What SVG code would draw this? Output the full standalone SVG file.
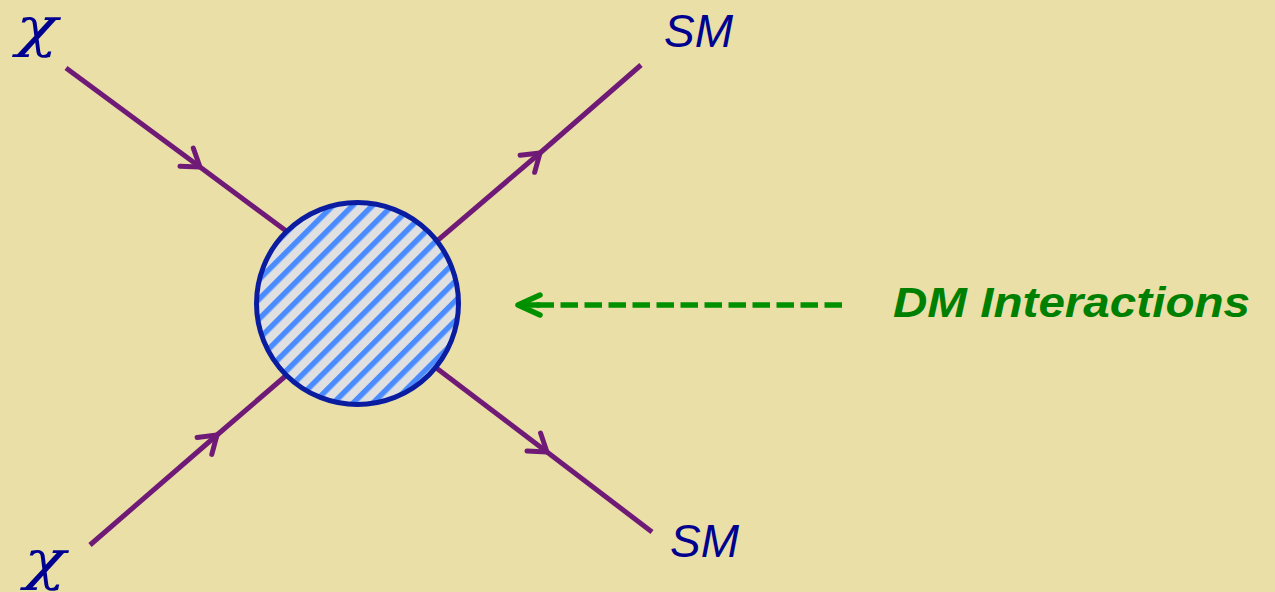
<svg xmlns="http://www.w3.org/2000/svg" width="1275" height="592" viewBox="0 0 1275 592">
  <style>
    .prop { stroke: #701a78; stroke-width: 5; stroke-linecap: butt; fill: none; }
    .head { stroke: #701a78; stroke-width: 5; stroke-linecap: round; stroke-linejoin: round; fill: none; }
    .chi { font-family: "DejaVu Serif", "Liberation Serif", serif; font-style: italic; font-size: 55px; fill: #000090; }
    .sm { font-family: "Liberation Sans", Arial, sans-serif; font-style: italic; font-size: 46px; fill: #000090; }
    .note { font-family: "Liberation Sans", Arial, sans-serif; font-style: italic; font-weight: bold; font-size: 42px; fill: #008000; }
  </style>
  <defs>
    <!-- open chevron arrowhead placed at the end of a segment -->
    <marker id="chev" markerUnits="userSpaceOnUse" viewBox="-20 -13 22 26" refX="0" refY="0" markerWidth="22" markerHeight="26" orient="auto" overflow="visible">
      <path class="head" d="M-16.6,-11.2 L0,0 L-16.6,11.2"/>
    </marker>
    <marker id="chevGreen" markerUnits="userSpaceOnUse" viewBox="-26 -14 28 28" refX="0" refY="0" markerWidth="28" markerHeight="28" orient="auto" overflow="visible">
      <path d="M-22,-10 L0,0 L-22,10" fill="none" stroke="#009000" stroke-width="5.5" stroke-linecap="round" stroke-linejoin="round"/>
    </marker>
    <pattern id="hatch" patternUnits="userSpaceOnUse" width="14" height="14" patternTransform="rotate(-45)">
      <rect width="14" height="14" fill="#e0e0e0"/>
      <rect y="0" width="14" height="5.5" fill="#4a8cff"/>
    </pattern>
  </defs>

  <rect width="1275" height="592" fill="#e9dfa7"/>

  <g id="connectors">
    <!-- incoming chi (top-left) -->
    <line class="prop" x1="66" y1="68" x2="200" y2="167" marker-end="url(#chev)"/>
    <line class="prop" x1="200" y1="167" x2="320" y2="256"/>
    <!-- incoming chi (bottom-left) -->
    <line class="prop" x1="90" y1="545" x2="217" y2="435" marker-end="url(#chev)"/>
    <line class="prop" x1="217" y1="435" x2="310" y2="355"/>
    <!-- outgoing SM (top-right) -->
    <line class="prop" x1="410" y1="264" x2="540" y2="153" marker-end="url(#chev)"/>
    <line class="prop" x1="540" y1="153" x2="641" y2="65"/>
    <!-- outgoing SM (bottom-right) -->
    <line class="prop" x1="410" y1="348" x2="547" y2="452" marker-end="url(#chev)"/>
    <line class="prop" x1="547" y1="452" x2="652" y2="532"/>
    <!-- dashed pointer to the blob -->
    <line x1="842" y1="305" x2="535" y2="305" stroke="#009000" stroke-width="5.5" stroke-dasharray="17.5 6.5"/>
    <line x1="540" y1="305" x2="518" y2="305" stroke="#009000" stroke-width="5.5" marker-end="url(#chevGreen)"/>
  </g>

  <g id="blob">
    <circle cx="357.5" cy="303.5" r="101" fill="url(#hatch)" stroke="#0a1ca0" stroke-width="5"/>
  </g>

  <g id="chi-top"><text class="chi" transform="translate(16,46) scale(1.25,1)">χ</text></g>
  <g id="chi-bottom"><text class="chi" transform="translate(24,579) scale(1.25,1)">χ</text></g>
  <g id="sm-top"><text class="sm" x="664" y="47">SM</text></g>
  <g id="sm-bottom"><text class="sm" x="670" y="557">SM</text></g>
  <g id="label"><text class="note" x="893" y="317" textLength="357" lengthAdjust="spacingAndGlyphs">DM Interactions</text></g>
</svg>
